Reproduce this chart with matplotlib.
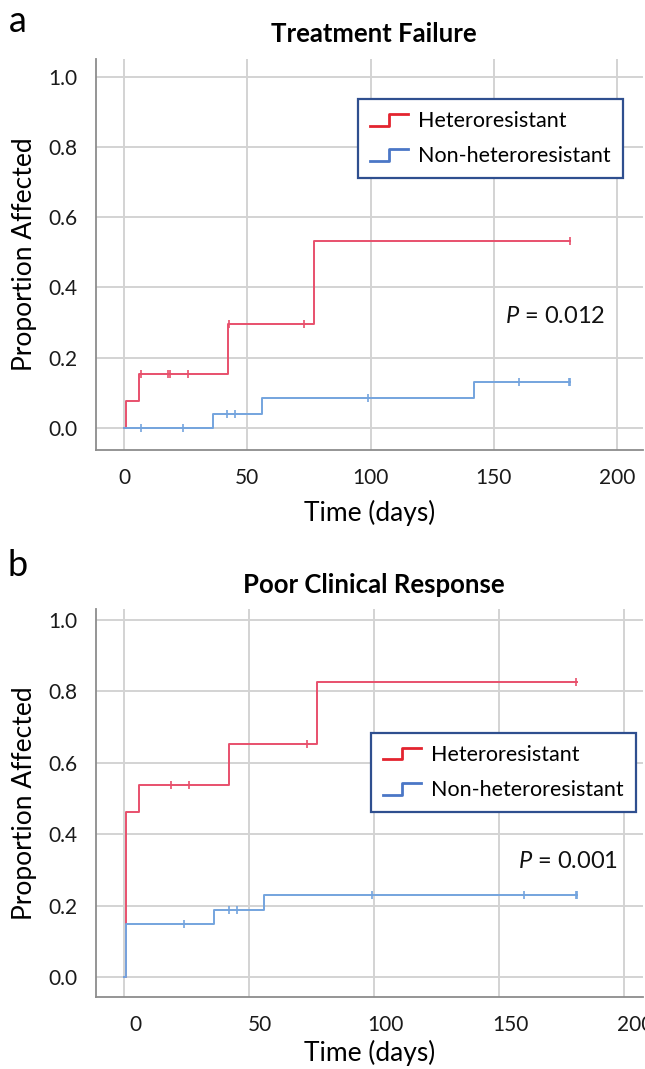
import numpy as np
import matplotlib
matplotlib.use("Agg")
import matplotlib.pyplot as plt
import matplotlib.transforms as mtransforms
from matplotlib.lines import Line2D
from matplotlib.legend_handler import HandlerBase

plt.rcParams['font.family'] = ['Lato', 'DejaVu Sans']
plt.rcParams['mathtext.fontset'] = 'custom'
plt.rcParams['mathtext.rm'] = 'Lato'
plt.rcParams['mathtext.it'] = 'Lato:italic'

# ------------------ data ------------------
groups = ["Heteroresistant", "Non-heteroresistant"]

# a: treatment failure
a_het_t = [0, 0.7, 6, 42, 77, 181]
a_het_p = [0, 0.077, 0.154, 0.296, 0.532, 0.532]
a_het_cens = [6.7, 18, 18.6, 25.8, 42.7, 72.9, 180.9]
a_non_t = [0, 36, 56, 142, 181]
a_non_p = [0, 0.040, 0.085, 0.130, 0.130]
a_non_cens = [6.9, 24, 41.8, 44.9, 99, 160, 180.5, 181]

# b: poor clinical response
b_het_t = [0, 0.7, 6, 42, 77, 181]
b_het_p = [0, 0.462, 0.538, 0.654, 0.827, 0.827]
b_het_cens = [18.8, 25.9, 73, 180.7]
b_non_t = [0, 0.7, 36, 56, 181]
b_non_p = [0, 0.149, 0.188, 0.229, 0.229]
b_non_cens = [24, 42, 45, 99, 160, 180.5, 181]

p_values = ["0.012", "0.001"]
titles = ["Treatment Failure", "Poor Clinical Response"]
panel_letters = ["a", "b"]
x_ticks = [0, 50, 100, 150, 200]
y_ticks = [0.0, 0.2, 0.4, 0.6, 0.8, 1.0]

RED = "#e8506c"
BLUE = "#74a4de"
RED_LEG = "#e3242f"
BLUE_LEG = "#4b77c6"


def step_at(times, probs, t):
    idx = np.searchsorted(times, t, side="right") - 1
    return np.asarray(probs)[idx]


class StepHandler(HandlerBase):
    def create_artists(self, legend, orig_handle, xdescent, ydescent,
                       width, height, fontsize, trans):
        x0, y0 = -xdescent, -ydescent
        xs = [x0, x0 + 0.5 * width, x0 + 0.5 * width, x0 + width]
        ys = [y0 + 0.1 * height, y0 + 0.1 * height,
              y0 + 0.85 * height, y0 + 0.85 * height]
        ln = Line2D(xs, ys, color=orig_handle.get_color(), lw=2.0)
        ln.set_transform(trans)
        return [ln]


fig = plt.figure(figsize=(6.45, 10.69), dpi=100)

panels = [
    dict(pos=[96 / 645, 1 - 450 / 1069, 547 / 645, 391 / 1069],
         xlim=(-11.4, 210.5), ylim=(-0.063, 1.051),
         het=(a_het_t, a_het_p, a_het_cens), non=(a_non_t, a_non_p, a_non_cens),
         leg=(0.479, 0.897), ptxt=(154.5, 0.318), shift=0, title_y=1.064,
         letter_y=1 - 450 / 1069 + 391 / 1069 + 38 / 1069),
    dict(pos=[96 / 645, 1 - 997 / 1069, 547 / 645, 388 / 1069],
         xlim=(-11.3, 207.5), ylim=(-0.056, 1.031),
         het=(b_het_t, b_het_p, b_het_cens), non=(b_non_t, b_non_p, b_non_cens),
         leg=(0.503, 0.680), ptxt=(157.5, 0.323), shift=11, title_y=1.062,
         letter_y=1 - 997 / 1069 + 388 / 1069 + 44 / 1069),
]

for i, cfg in enumerate(panels):
    ax = fig.add_axes(cfg["pos"])
    ax.set_xlim(*cfg["xlim"])
    ax.set_ylim(*cfg["ylim"])
    ax.set_xticks(x_ticks)
    ax.set_yticks(y_ticks)
    ax.set_yticklabels([f"{v:.1f}" for v in y_ticks])
    ax.grid(True, color="#d3d3d3", lw=1.4)
    ax.set_axisbelow(True)
    for s in ["top", "right"]:
        ax.spines[s].set_visible(False)
    for s in ["left", "bottom"]:
        ax.spines[s].set_color("#8c8c8c")
        ax.spines[s].set_linewidth(1.3)
    ax.tick_params(length=0, labelsize=15, colors="#1a1a1a")
    ax.tick_params(axis="y", pad=13.5)
    ax.tick_params(axis="x", pad=13)
    if cfg["shift"]:
        off = mtransforms.ScaledTranslation(cfg["shift"] / 100, 0, fig.dpi_scale_trans)
        for lab in ax.get_xticklabels():
            lab.set_transform(lab.get_transform() + off)

    for (t, p, cens), col in [(cfg["het"], RED), (cfg["non"], BLUE)]:
        ax.step(t, p, where="post", color=col, lw=1.4)
        ax.plot(cens, step_at(t, p, cens), ls="none", marker="|",
                ms=5.5, mew=1.2, color=col)

    handles = [Line2D([], [], color=RED_LEG), Line2D([], [], color=BLUE_LEG)]
    leg = ax.legend(handles, groups, loc="upper left", bbox_to_anchor=cfg["leg"],
                    borderaxespad=0, fontsize=15.5, frameon=True, fancybox=False,
                    handler_map={Line2D: StepHandler()}, handlelength=1.75,
                    handletextpad=0.5, labelspacing=0.7, borderpad=0.55)
    leg.get_frame().set_edgecolor("#2f4f8f")
    leg.get_frame().set_linewidth(1.6)
    leg.get_frame().set_alpha(1)

    ax.text(cfg["ptxt"][0], cfg["ptxt"][1], r"$P$ = " + p_values[i],
            fontsize=17, va="center", ha="left", color="#111111")

    ax.text(0.507, cfg["title_y"], titles[i], transform=ax.transAxes,
            ha="center", va="center", fontsize=18.5, fontweight="bold")
    ax.set_ylabel("Proportion Affected", fontsize=19)
    ax.yaxis.set_label_coords(-0.13, 0.5)
    ax.yaxis.label.set_va("center")
    ax.set_xlabel("Time (days)", fontsize=19)
    ax.xaxis.set_label_coords(0.5, -0.16 if i == 0 else -0.145)
    ax.xaxis.label.set_va("center")
    fig.text(18 / 645, cfg["letter_y"], panel_letters[i], fontsize=26,
             ha="center", va="center")

fig.savefig("out.png", dpi=100)
